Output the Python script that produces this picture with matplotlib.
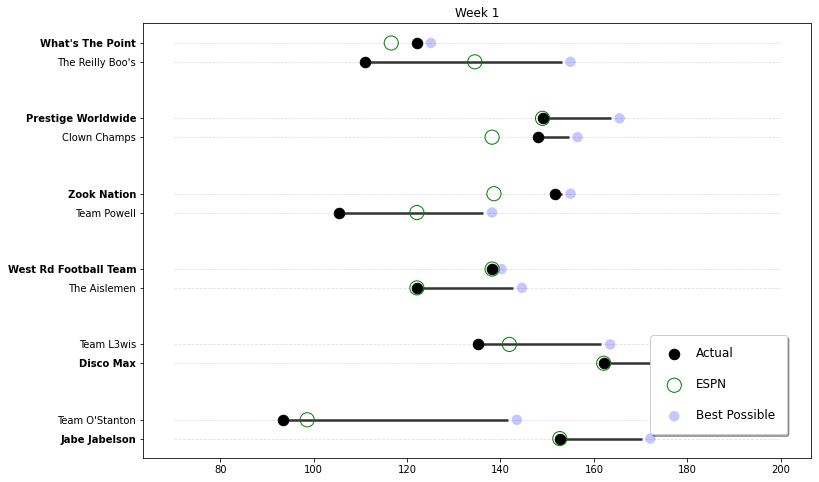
import matplotlib
matplotlib.use("Agg")
import matplotlib.pyplot as plt

# matchups, winner first (winner label in bold)
winners = ["Jabe Jabelson", "Disco Max", "West Rd Football Team",
           "Zook Nation", "Prestige Worldwide", "What's The Point"]
losers = ["Team O'Stanton", "Team L3wis", "The Aislemen",
          "Team Powell", "Clown Champs", "The Reilly Boo's"]

winner_actual = [152.7, 162.1, 138.2, 151.6, 149.0, 122.1]
winner_espn = [152.7, 162.1, 138.2, 138.6, 149.0, 116.6]
winner_best = [172.1, 176.0, 140.2, 155.0, 165.5, 125.1]

loser_actual = [93.5, 135.2, 122.1, 105.5, 148.0, 111.0]
loser_espn = [98.6, 141.9, 122.1, 122.1, 138.2, 134.5]
loser_best = [143.5, 163.5, 144.6, 138.2, 156.5, 155.0]

# winner sits below loser in some matchups, above in others
winner_on_top = [False, False, True, True, True, True]

names, actual, espn, best, ypos, bold = [], [], [], [], [], []
for i in range(len(winners)):
    base = i * 4
    w_y, l_y = (base + 1, base) if winner_on_top[i] else (base, base + 1)
    for n, a, e, b, y, isw in [
        (winners[i], winner_actual[i], winner_espn[i], winner_best[i], w_y, True),
        (losers[i], loser_actual[i], loser_espn[i], loser_best[i], l_y, False),
    ]:
        names.append(n)
        actual.append(a)
        espn.append(e)
        best.append(b)
        ypos.append(y)
        bold.append(isw)

fig, ax = plt.subplots(figsize=(819 / 72, 482 / 72), dpi=72)
fig.subplots_adjust(left=143.3 / 819, right=811 / 819, top=1 - 23.2 / 482, bottom=1 - 458.4 / 482)

# light dashed guide lines
ax.hlines(ypos, 70, 200, colors="lightgray", linestyles="--", linewidth=0.8, alpha=0.7, zorder=1)

# gap between actual and best possible
for a, b, y in zip(actual, best, ypos):
    if b - 2 > a:
        ax.hlines(y, a, b - 1.9, colors="#333333", linewidth=2.5, zorder=2)

ax.scatter(best, ypos, s=110, color="blue", alpha=0.22, edgecolors="none", label="Best Possible", zorder=3)
ax.scatter(actual, ypos, s=110, color="black", label="Actual", zorder=4)
ax.scatter(espn, ypos, s=200, facecolors="none", edgecolors="green", linewidths=1.0, label="ESPN", zorder=5)

ax.set_yticks(ypos)
ax.set_yticklabels(names, fontsize=10)
for lbl, isw in zip(ax.get_yticklabels(), bold):
    if isw:
        lbl.set_fontweight("bold")
ax.tick_params(axis="x", labelsize=10)
ax.set_title("Week 1", fontsize=12)

handles, labels = ax.get_legend_handles_labels()
order = [labels.index("Actual"), labels.index("ESPN"), labels.index("Best Possible")]
ax.legend([handles[i] for i in order], [labels[i] for i in order],
          loc="lower right", fontsize=12, shadow=True, labelspacing=1.5,
          borderpad=1.0, borderaxespad=2.0, fancybox=True)

plt.savefig("out.png", dpi=72)
